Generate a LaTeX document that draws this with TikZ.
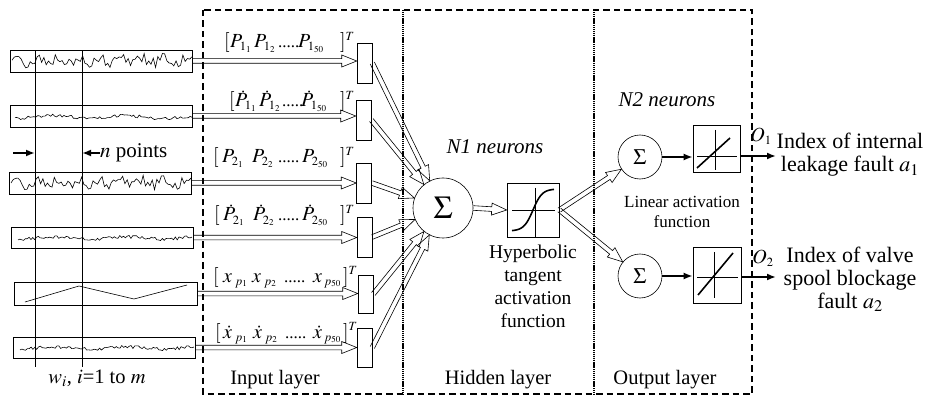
\documentclass[tikz,border=0pt]{standalone}
\usepackage{mathptmx}
\usepackage[no-math]{fontspec}
\setmainfont{Liberation Serif}
\DeclareMathSizes{20}{20}{12.5}{9}
\usetikzlibrary{calc,arrows.meta}
\tikzset{
  sigbox/.style={draw, line width=0.6pt, inner sep=0pt, minimum width=182pt, minimum height=22pt},
  inrect/.style={draw, line width=0.6pt, inner sep=0pt, minimum width=15pt, minimum height=40pt},
  sigline/.style={line width=0.6pt},
  harrline/.style={line width=0.6pt, line join=miter},
  thickarr/.style={line width=1.8pt, -{Latex[length=9pt,width=7pt]}},
  neuron/.style={draw, circle, line width=0.6pt, inner sep=0pt},
  actbox/.style={draw, line width=0.6pt, inner sep=0pt},
  vlabel/.style={anchor=base west, inner sep=0pt, font=\fontsize{20}{24}\selectfont},
  caption/.style={font=\fontsize{20.5}{24}\selectfont, inner sep=0pt},
  frame/.style={line width=2pt, dash pattern=on 6.5pt off 4pt},
  divider/.style={line width=1.4pt, dash pattern=on 1.2pt off 0.7pt},
}
\newcommand{\hollowarrow}[2]{%
  \path (#1) -- (#2) coordinate[pos=0] (hastart) coordinate[pos=1] (haend);
  \draw[harrline] let \p1=(hastart), \p2=(haend), \n1={atan2(\y2-\y1,\x2-\x1)} in
    ($(\p1)+(\n1+90:2.3pt)$) -- ($(\p2)+(\n1+180:15pt)+(\n1+90:2.3pt)$)
    -- ($(\p2)+(\n1+180:15pt)+(\n1+90:6pt)$) -- (\p2)
    -- ($(\p2)+(\n1+180:15pt)+(\n1-90:6pt)$) -- ($(\p2)+(\n1+180:15pt)+(\n1-90:2.3pt)$)
    -- ($(\p1)+(\n1-90:2.3pt)$);}
\newcommand{\vlab}[3]{\foreach \xx/\cc [count=\k] in {#3} {\node[vlabel] (#1-\k) at (\xx,#2) {\cc};}}
\newcommand{\fivedots}{{\fontsize{17}{20}\selectfont .....}}
\begin{document}
\begin{tikzpicture}[x=1pt,y=-1pt]
\useasboundingbox (0,0) rectangle (927,401);
% layer frames
\draw[frame] (203,10) rectangle (752,394);
\draw[divider] (403,10) -- (403,394);
\draw[divider] (594,10) -- (594,394);

% signal windows
\node[sigbox] (s1) at (101,61) {};
\node[sigbox] (s2) at (101,116) {};
\node[sigbox] (s3) at (100,183) {};
\node[sigbox, minimum height=21pt] (s4) at (102,237.5) {};
\node[sigbox, minimum width=183pt, minimum height=23pt] (s5) at (105.5,293.5) {};
\node[sigbox, minimum height=21pt] (s6) at (104,347.5) {};

\pgfmathsetseed{11}
\draw[sigline] plot[domain=12:192, samples=80] (\x,{61+2.5*sin(17*\x)+5.5*rand});
\pgfmathsetseed{23}
\draw[sigline] plot[domain=15:192, samples=95] (\x,{117+1.2*sin(5*\x)+1.6*rand});
\pgfmathsetseed{11}
\draw[sigline] plot[domain=11:191, samples=80] (\x,{183+2.5*sin(17*\x)+5.5*rand});
\pgfmathsetseed{37}
\draw[sigline] plot[domain=18:192, samples=95] (\x,{238+1.2*sin(5*\x)+1.6*rand});
\draw[sigline] (25,302) -- (79,286) -- (134,299) -- (187,285);
\pgfmathsetseed{37}
\draw[sigline] plot[domain=20:194, samples=95] (\x,{348+1.2*sin(5*\x)+1.6*rand});

% window lines
\coordinate (v1t) at (35,51);
\coordinate (v1b) at (35,367);
\coordinate (v2t) at (82,51);
\coordinate (v2b) at (82,367);
\draw[line width=0.6pt] (v1t) -- (v1b);
\draw[line width=0.6pt] (v2t) -- (v2b);
\coordinate (na1) at (13,153);
\coordinate (na2) at (100,153);
\draw[thickarr] (na1) -- (na1 -| v1t);
\draw[thickarr] (na2) -- (na2 -| v2t);
\node[anchor=west, inner sep=0pt, font=\fontsize{21}{24}\selectfont] (npts) at (100,153) {$n$ points};
\node[font=\fontsize{20.5}{24}\selectfont, inner sep=0pt] (wlab) at (97,378) {$w_i$, $i$=1 to $m$};

% input layer rectangles
\node[inrect] (r1) at (364.5,63) {};
\node[inrect] (r2) at (363.5,120) {};
\node[inrect] (r3) at (364,183) {};
\node[inrect] (r4) at (364.5,237) {};
\node[inrect, minimum height=38pt] (r5) at (365.5,294) {};
\node[inrect, minimum height=39pt] (r6) at (364.5,347.5) {};

\hollowarrow{s1.east}{s1.east -| r1.west}
\hollowarrow{s2.east}{s2.east -| r2.west}
\hollowarrow{s3.east}{s3.east -| r3.west}
\hollowarrow{s4.east}{s4.east -| r4.west}
\hollowarrow{s5.east}{s5.east -| r5.west}
\hollowarrow{s6.east}{s6.east -| r6.west}

% vector labels
\vlab{l1}{48}{224/{$[$}, 230/{$P_{1_1}$}, 254/{$P_{1_2}$}, 278/{\fivedots}, 298/{$P_{1_{50}}$}, 340/{$]^T$}}
\vlab{l2}{107}{229/{$[$}, 235/{$\dot{P}_{1_1}$}, 259/{$\dot{P}_{1_2}$}, 282/{\fivedots}, 301/{$\dot{P}_{1_{50}}$}, 340/{$]^T$}}
\vlab{l3}{163}{213/{$[$}, 222/{$P_{2_1}$}, 252/{$P_{2_2}$}, 278/{\fivedots}, 302/{$P_{2_{50}}$}, 340/{$]^T$}}
\vlab{l4}{221}{214/{$[$}, 223/{$\dot{P}_{2_1}$}, 253/{$\dot{P}_{2_2}$}, 278/{\fivedots}, 302/{$\dot{P}_{2_{50}}$}, 340/{$]^T$}}
\vlab{l5}{282}{213/{$[$}, 223/{$x_{\hspace{3pt}p_1}$}, 252/{$x_{\hspace{3pt}p_2}$}, 284/{\fivedots}, 313/{$x_{\hspace{2pt}p_{50}}$}, 343/{$]^T$}}
\vlab{l6}{338}{215/{$[$}, 223/{$\dot{x}_{\hspace{3pt}p_1}$}, 253/{$\dot{x}_{\hspace{3pt}p_2}$}, 285/{\fivedots}, 313/{$\dot{x}_{\hspace{2pt}p_{50}}$}, 343/{$]^T$}}

% hidden layer
\node[neuron, minimum size=60pt, font=\fontsize{32}{34}\selectfont] (sig) at (443,208) {$\Sigma$};
\foreach \r in {r1,r2,r3,r4,r5,r6} {\hollowarrow{\r.east}{sig}}
\node[actbox, minimum width=52pt, minimum height=54pt] (tb) at (533,210) {};
\draw[line width=0.6pt] (512,210) -- (555,210);
\draw[line width=0.6pt] (535,188) -- (535,237);
\draw[line width=1.6pt] plot[domain=-1:1, samples=40] ({533+21*\x},{210-21*tanh(2.3*\x)});
\hollowarrow{sig.east}{tb.west}
\node[font=\fontsize{21}{24}\selectfont\itshape, inner sep=0pt] (n1) at (495,147) {N1 neurons};
\node[font=\fontsize{19.5}{23}\selectfont, align=center, anchor=base, inner sep=0pt] (hyp) at (533,327) {Hyperbolic\\tangent\\activation\\function};

% output layer
\node[neuron, minimum size=44pt, font=\fontsize{22}{24}\selectfont] (so1) at (640,157) {$\Sigma$};
\node[neuron, minimum size=44pt, font=\fontsize{22}{24}\selectfont] (so2) at (640,276) {$\Sigma$};
\hollowarrow{tb.east}{so1}
\hollowarrow{tb.east}{so2}
\node[actbox, minimum width=47pt, minimum height=47pt] (lb1) at (716.5,148.5) {};
\node[actbox, minimum width=48pt, minimum height=56pt] (lb2) at (717,275) {};
\draw[line width=0.6pt] (697,156) -- (737,156);
\draw[line width=0.6pt] (715,130) -- (715,170);
\draw[line width=1.6pt] (697,168) -- (730,138);
\draw[line width=0.6pt] (697,277) -- (738,277);
\draw[line width=0.6pt] (714,252) -- (714,298);
\draw[line width=1.6pt] (698,295) -- (733,253);
\draw[thickarr] (so1.east) -- (so1.east -| lb1.west);
\draw[thickarr] (so2.east) -- (so2.east -| lb2.west);
\coordinate (o1end) at (776,156);
\coordinate (o2end) at (776,277);
\draw[thickarr] (lb1.east |- o1end) -- (o1end);
\draw[thickarr] (lb2.east |- o2end) -- (o2end);
\node[font=\fontsize{21}{24}\selectfont\itshape, inner sep=0pt] (n2) at (667,100) {N2 neurons};
\node[font=\fontsize{17}{20}\selectfont, align=center, inner sep=0pt] (lin) at (682,212) {Linear activation\\function};
\node[font=\fontsize{20}{22}\selectfont, inner sep=0pt] (o1) at (761,136) {$O_1$};
\node[font=\fontsize{20}{22}\selectfont, inner sep=0pt] (o2) at (763,258) {$O_2$};
\node[font=\fontsize{22}{24}\selectfont, align=center, anchor=base, inner sep=0pt] (t1) at (850,172) {Index of internal\\leakage fault $a_1$};
\node[font=\fontsize{22}{23}\selectfont, align=center, anchor=base, inner sep=0pt] (t2) at (850,308) {Index of valve\\spool blockage\\fault $a_2$};

% layer captions
\node[caption] (cin) at (275,380) {Input layer};
\node[caption] (chid) at (498,380) {Hidden layer};
\node[caption] (cout) at (665,380) {Output layer};
\end{tikzpicture}
\end{document}
